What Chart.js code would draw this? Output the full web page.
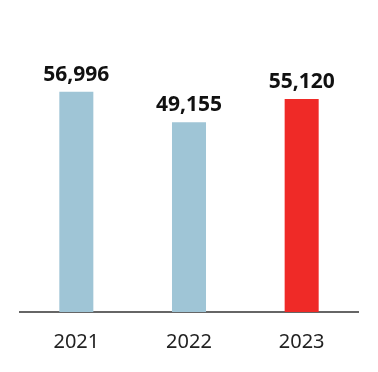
<!DOCTYPE html>
<html>
<head>
<meta charset="utf-8">
<script src="https://cdn.jsdelivr.net/npm/chart.js@4"></script>
<style>
  html, body { margin: 0; padding: 0; background: #fff; }
</style>
</head>
<body>
<canvas id="chart" width="378" height="372"></canvas>
<script>
const years = ['2021', '2022', '2023'];
const values = [56996, 49155, 55120];
const barColors = ['#9fc5d6', '#9fc5d6', '#ef2a27'];

// value labels above each bar
const valueLabels = {
    id: 'valueLabels',
    afterDatasetsDraw(chart) {
        const ctx = chart.ctx;
        const meta = chart.getDatasetMeta(0);
        ctx.save();
        ctx.font = 'bold 21px "Noto Sans"';
        ctx.fillStyle = '#111';
        ctx.textAlign = 'center';
        ctx.textBaseline = 'alphabetic';
        meta.data.forEach((bar, i) => {
            ctx.fillText(values[i].toLocaleString('en-US'), bar.x, bar.y - 11);
        });
        ctx.restore();
    }
};

new Chart(document.getElementById('chart'), {
    type: 'bar',
    data: {
        labels: years,
        datasets: [{
            data: values,
            backgroundColor: barColors,
            borderWidth: 0,
            categoryPercentage: 1,
            barPercentage: 0.302
        }]
    },
    options: {
        responsive: false,
        animation: false,
        layout: { padding: { top: 3, left: 20, right: 20, bottom: 0 } },
        plugins: {
            legend: { display: false },
            tooltip: { enabled: false }
        },
        scales: {
            x: {
                grid: { display: false, drawTicks: false },
                border: { display: true, color: '#666', width: 2 },
                ticks: {
                    color: '#222',
                    padding: 18,
                    font: { family: '"Noto Sans"', size: 20 }
                }
            },
            y: {
                display: false,
                min: 0,
                max: 80000
            }
        }
    },
    plugins: [valueLabels]
});
</script>
</body>
</html>
